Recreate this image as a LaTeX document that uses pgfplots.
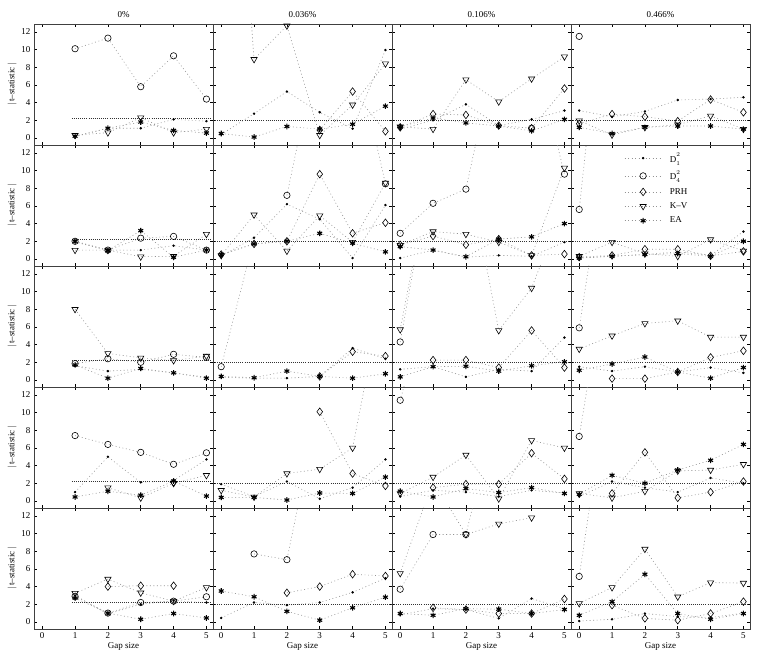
\documentclass[border=0pt]{standalone}
\usepackage{pgfplots}
\pgfplotsset{compat=1.18}
\usepgfplotslibrary{groupplots}
\usepackage{fontspec}
\setmainfont{Liberation Serif}
\newcommand{\Dsq}[1]{D$^{\raisebox{1.5pt}{$\scriptstyle 2$}}_{\raisebox{-1.5pt}{$\scriptstyle #1$}}$}
\pgfplotsset{
  ln/.style={gray!85, dash pattern=on 0.9pt off 2.6pt, line width=0.6pt},
  d1/.style={ln, mark=*, mark size=0.9pt, mark options={solid, black, fill=black}},
  d4/.style={ln, mark=o, mark size=3.2pt, mark options={solid, black, line width=0.6pt}},
  prh/.style={ln, mark=diamond, mark size=3.8pt, mark options={solid, black, fill=white, line width=0.6pt}},
  kv/.style={ln, mark=triangle, mark size=3.6pt, mark options={solid, black, fill=white, rotate=180, line width=0.6pt}},
  ea/.style={ln, mark=asterisk, mark size=2.8pt, mark options={solid, black, line width=1.1pt}},
  crit/.style={black!80, dash pattern=on 0.7pt off 1.4pt, line width=0.5pt, no marks},
}
\begin{document}
\begin{tikzpicture}
\begin{groupplot}[
  group style={group name=G, group size=4 by 5, horizontal sep=0pt, vertical sep=0pt,
    x descriptions at=edge bottom, y descriptions at=edge left},
  width=179pt, height=121pt, scale only axis,
  xmin=-0.25, xmax=5.2, ymin=-0.8, ymax=12.9,
  xtick={0,1,2,3,4,5}, ytick={0,2,4,6,8,10,12},
  /pgf/number format/assume math mode=true,
  tick label style={font=\small},
  label style={font=\small},
  title style={font=\small, yshift=-3pt},
  axis line style={black!75, line width=0.9pt},
  major tick length=3pt,
  tick style={black, line width=0.5pt},
  ylabel={$|$\,t--statistic\,$|$},
  xlabel={Gap size},
  ylabel style={yshift=-2pt},
  xlabel style={yshift=3pt},
]
% ---------------- Row 1 ----------------
\nextgroupplot[title={0\%}]
\addplot[d1] coordinates {(1,0.15)(2,1.1)(3,1.1)(4,2.1)(5,1.9)};
\addplot[d4] coordinates {(1,10.1)(2,11.3)(3,5.8)(4,9.3)(5,4.4)};
\addplot[kv] coordinates {(1,0.3)(2,0.6)(3,2.3)(4,0.6)(5,1.0)};
\addplot[ea] coordinates {(1,0.2)(2,1.1)(3,1.8)(4,0.85)(5,0.55)};
\addplot[crit] coordinates {(0.9,2.25)(5.15,2.25)};
\nextgroupplot[title={0.036\%}]
\addplot[d1] coordinates {(0,0.4)(1,2.75)(2,5.25)(3,2.9)(4,1.05)(5,9.95)};
\addplot[prh] coordinates {(3,0.9)(4,5.25)(5,0.75)};
\addplot[kv] coordinates {(0,60)(1,8.9)(2,12.7)(3,0.3)(4,3.75)(5,8.4)};
\addplot[ea] coordinates {(0,0.5)(1,0.1)(2,1.3)(3,1.0)(4,1.55)(5,3.6)};
\addplot[crit] coordinates {(-0.25,2.05)(5.2,2.05)};
\nextgroupplot[title={0.106\%}]
\addplot[d1] coordinates {(0,1.0)(1,2.0)(2,3.8)(3,1.4)(4,2.1)(5,3.1)};
\addplot[d4] coordinates {(4,1.1)};
\addplot[prh] coordinates {(0,1.2)(1,2.7)(2,2.6)(3,1.4)(4,1.1)(5,5.6)};
\addplot[kv] coordinates {(0,1.26)(1,1.0)(2,6.6)(3,4.1)(4,6.7)(5,9.2)};
\addplot[ea] coordinates {(0,1.26)(1,2.25)(2,1.7)(3,1.35)(4,0.8)(5,2.1)};
\addplot[crit] coordinates {(-0.25,2.05)(5.2,2.05)};
\nextgroupplot[title={0.466\%}]
\addplot[d1] coordinates {(0,3.1)(1,2.4)(2,3.0)(3,4.3)(4,4.4)(5,4.6)};
\addplot[d4] coordinates {(0,11.5)};
\addplot[prh] coordinates {(0,1.6)(1,2.7)(2,2.4)(3,1.9)(4,4.35)(5,2.9)};
\addplot[kv] coordinates {(0,1.95)(1,0.35)(2,1.2)(3,1.5)(4,2.5)(5,1.0)};
\addplot[ea] coordinates {(0,1.2)(1,0.5)(2,1.2)(3,1.35)(4,1.35)(5,1.0)};
\addplot[crit] coordinates {(-0.25,2.05)(5.2,2.05)};
% ---------------- Row 2 ----------------
\nextgroupplot
\addplot[d1] coordinates {(1,1.9)(2,1.0)(3,1.0)(4,1.5)(5,1.0)};
\addplot[d4] coordinates {(1,2.0)(2,1.0)(3,2.35)(4,2.55)(5,1.0)};
\addplot[kv] coordinates {(1,1.0)(2,1.0)(3,0.25)(4,0.3)(5,2.8)};
\addplot[ea] coordinates {(1,2.0)(2,0.95)(3,3.2)(4,0.2)(5,1.0)};
\addplot[crit] coordinates {(0.9,2.25)(5.15,2.25)};
\nextgroupplot
\addplot[d1] coordinates {(0,0.3)(1,2.4)(2,6.2)(3,4.5)(4,0.1)(5,6.1)};
\addplot[d4] coordinates {(2,7.2)(3,25)(4,25)(5,8.5)};
\addplot[prh] coordinates {(0,0.5)(1,1.7)(2,2.0)(3,9.6)(4,2.9)(5,4.1)};
\addplot[kv] coordinates {(0,0.4)(1,5.0)(2,0.9)(3,4.9)(4,1.9)(5,8.6)};
\addplot[ea] coordinates {(0,0.5)(1,1.7)(2,2.0)(3,2.9)(4,1.8)(5,0.8)};
\addplot[crit] coordinates {(-0.25,2.05)(5.2,2.05)};
\nextgroupplot
\addplot[d1] coordinates {(0,0.1)(1,1.0)(2,0.2)(3,0.4)(4,0.3)(5,1.9)};
\addplot[d4] coordinates {(0,2.9)(1,6.3)(2,7.9)(3,25)(4,25)(5,9.6)};
\addplot[prh] coordinates {(0,1.6)(1,2.6)(2,1.6)(3,2.25)(4,0.4)(5,0.55)};
\addplot[kv] coordinates {(0,1.55)(1,3.1)(2,2.8)(3,1.9)(4,0.4)(5,10.3)};
\addplot[ea] coordinates {(0,1.4)(1,1.0)(2,0.25)(3,2.25)(4,2.5)(5,4.0)};
\addplot[crit] coordinates {(-0.25,2.05)(5.2,2.05)};
\nextgroupplot[legend style={at={(0.28,0.97)}, anchor=north west, draw=none, fill=none,
    font=\small, row sep=3pt, cells={anchor=west},
    /tikz/every odd column/.append style={column sep=6pt},
    legend image code/.code={\draw[mark repeat=2,mark phase=2,#1] plot coordinates {(0cm,0cm) (0.65cm,0cm) (1.3cm,0cm)};}}]
\addplot[d1] coordinates {(0,0.1)(1,0.3)(2,0.5)(3,0.8)(4,0.4)(5,3.1)};
\addplot[d4] coordinates {(0,5.6)(1,40)};
\addplot[prh] coordinates {(0,0.2)(1,0.4)(2,1.1)(3,1.1)(4,0.35)(5,0.85)};
\addplot[kv] coordinates {(0,0.3)(1,1.9)(2,0.6)(3,0.3)(4,2.2)(5,0.9)};
\addplot[ea] coordinates {(0,0.1)(1,0.3)(2,0.5)(3,0.6)(4,0.3)(5,2.0)};
\addplot[crit] coordinates {(-0.25,2.05)(5.2,2.05)};
\legend{\Dsq{1}, \Dsq{4}, PRH, K--V, EA}
% ---------------- Row 3 ----------------
\nextgroupplot
\addplot[d1] coordinates {(1,1.6)(2,1.0)(3,1.2)(4,0.8)(5,0.3)};
\addplot[d4] coordinates {(1,1.85)(2,2.4)(3,2.0)(4,2.9)(5,2.55)};
\addplot[kv] coordinates {(1,8.0)(2,3.0)(3,2.5)(4,2.2)(5,2.7)};
\addplot[ea] coordinates {(1,1.7)(2,0.2)(3,1.3)(4,0.8)(5,0.2)};
\addplot[crit] coordinates {(0.9,2.25)(5.15,2.25)};
\nextgroupplot
\addplot[d1] coordinates {(0,0.3)(1,0.2)(2,0.2)(3,0.4)(4,3.6)(5,2.4)};
\addplot[d4] coordinates {(0,1.5)(1,16)};
\addplot[prh] coordinates {(3,0.4)(4,3.2)(5,2.7)};
\addplot[ea] coordinates {(0,0.4)(1,0.25)(2,1.0)(3,0.4)(4,0.2)(5,0.7)};
\addplot[crit] coordinates {(-0.25,2.05)(5.2,2.05)};
\nextgroupplot
\addplot[d1] coordinates {(0,1.2)(1,1.5)(2,0.35)(3,1.2)(4,1.0)(5,4.8)};
\addplot[d4] coordinates {(0,4.3)(1,25)};
\addplot[prh] coordinates {(1,2.25)(2,2.25)(3,1.4)(4,5.6)(5,1.4)};
\addplot[kv] coordinates {(0,5.7)(1,25)(2,25)(3,5.6)(4,10.4)(5,20)};
\addplot[ea] coordinates {(0,0.35)(1,1.5)(2,1.55)(3,1.0)(4,1.6)(5,2.05)};
\addplot[crit] coordinates {(-0.25,2.05)(5.2,2.05)};
\nextgroupplot
\addplot[d1] coordinates {(0,1.5)(1,1.0)(2,1.5)(3,0.9)(4,1.4)(5,0.8)};
\addplot[d4] coordinates {(0,5.9)(1,30)};
\addplot[prh] coordinates {(1,0.15)(2,0.15)(3,0.9)(4,2.55)(5,3.3)};
\addplot[kv] coordinates {(0,3.5)(1,5.0)(2,6.4)(3,6.7)(4,4.85)(5,4.85)};
\addplot[ea] coordinates {(0,1.1)(1,1.8)(2,2.6)(3,0.9)(4,0.2)(5,1.4)};
\addplot[crit] coordinates {(-0.25,2.05)(5.2,2.05)};
% ---------------- Row 4 ----------------
\nextgroupplot
\addplot[d1] coordinates {(1,1.0)(2,5.0)(3,2.1)(4,2.3)(5,4.7)};
\addplot[d4] coordinates {(1,7.4)(2,6.4)(3,5.5)(4,4.15)(5,5.45)};
\addplot[prh] coordinates {(4,2.1)};
\addplot[kv] coordinates {(2,1.5)(3,0.35)(4,2.0)(5,2.9)};
\addplot[ea] coordinates {(1,0.45)(2,1.1)(3,0.65)(4,2.25)(5,0.55)};
\addplot[crit] coordinates {(0.9,2.25)(5.15,2.25)};
\nextgroupplot
\addplot[d1] coordinates {(0,1.9)(1,0.5)(2,2.2)(3,0.25)(4,1.5)(5,4.7)};
\addplot[prh] coordinates {(3,10.1)(4,3.1)(5,1.7)};
\addplot[kv] coordinates {(0,1.2)(1,0.45)(2,3.1)(3,3.6)(4,6.0)(5,25)};
\addplot[ea] coordinates {(0,0.4)(1,0.4)(2,0.1)(3,0.9)(4,0.85)(5,2.7)};
\addplot[crit] coordinates {(-0.25,2.05)(5.2,2.05)};
\nextgroupplot
\addplot[d1] coordinates {(0,0.5)(1,1.2)(2,1.0)(3,0.5)(4,1.2)(5,0.9)};
\addplot[d4] coordinates {(0,11.4)(1,25)};
\addplot[prh] coordinates {(1,1.5)(2,1.9)(3,1.9)(4,5.4)(5,2.5)};
\addplot[kv] coordinates {(0,0.85)(1,2.7)(2,5.2)(3,0.25)(4,6.85)(5,6.0)};
\addplot[ea] coordinates {(0,1.1)(1,0.45)(2,1.4)(3,0.95)(4,1.5)(5,0.85)};
\addplot[crit] coordinates {(-0.25,2.05)(5.2,2.05)};
\nextgroupplot
\addplot[d1] coordinates {(0,0.5)(1,2.2)(2,1.5)(3,1.0)(4,2.6)(5,2.0)};
\addplot[d4] coordinates {(0,7.3)(1,30)};
\addplot[prh] coordinates {(1,0.85)(2,5.5)(3,0.35)(4,1.0)(5,2.2)};
\addplot[kv] coordinates {(0,0.85)(1,0.35)(2,1.1)(3,3.4)(4,3.5)(5,4.15)};
\addplot[ea] coordinates {(0,0.75)(1,2.9)(2,2.0)(3,3.5)(4,4.6)(5,6.4)};
\addplot[crit] coordinates {(-0.25,2.05)(5.2,2.05)};
% ---------------- Row 5 ----------------
\nextgroupplot
\addplot[d1] coordinates {(1,3.0)(2,0.9)(3,2.0)(4,2.4)(5,2.2)};
\addplot[d4] coordinates {(1,2.9)(2,1.0)(3,2.2)(4,2.35)(5,2.85)};
\addplot[prh] coordinates {(2,4.0)(3,4.1)(4,4.1)};
\addplot[kv] coordinates {(1,3.25)(2,4.85)(3,3.3)(4,2.35)(5,3.9)};
\addplot[ea] coordinates {(1,2.7)(2,1.0)(3,0.3)(4,0.95)(5,0.45)};
\addplot[crit] coordinates {(0.9,2.25)(5.15,2.25)};
\nextgroupplot
\addplot[d1] coordinates {(0,0.45)(1,2.2)(2,1.9)(3,2.2)(4,3.35)(5,4.95)};
\addplot[d4] coordinates {(1,7.7)(2,7.05)(3,25)};
\addplot[prh] coordinates {(2,3.3)(3,4.0)(4,5.4)(5,5.2)};
\addplot[ea] coordinates {(0,3.5)(1,2.85)(2,1.2)(3,0.2)(4,1.6)(5,2.8)};
\addplot[crit] coordinates {(-0.25,2.05)(5.2,2.05)};
\nextgroupplot
\addplot[d1] coordinates {(0,0.8)(1,1.5)(2,1.4)(3,0.4)(4,2.65)(5,1.5)};
\addplot[d4] coordinates {(0,3.7)(1,9.9)(2,9.9)(3,25)};
\addplot[prh] coordinates {(1,1.6)(2,1.4)(3,0.95)(4,0.95)(5,2.6)};
\addplot[kv] coordinates {(0,5.5)(1,16)(2,9.9)(3,11.1)(4,11.8)};
\addplot[ea] coordinates {(0,0.95)(1,0.75)(2,1.5)(3,1.45)(4,0.95)(5,1.4)};
\addplot[crit] coordinates {(-0.25,2.05)(5.2,2.05)};
\nextgroupplot
\addplot[d1] coordinates {(0,0.1)(1,0.3)(2,0.95)(3,0.6)(4,0.5)(5,1.0)};
\addplot[d4] coordinates {(0,5.15)(1,30)};
\addplot[prh] coordinates {(1,1.9)(2,0.4)(3,0.2)(4,0.95)(5,2.3)};
\addplot[kv] coordinates {(0,2.1)(1,3.9)(2,8.25)(3,2.85)(4,4.45)(5,4.4)};
\addplot[ea] coordinates {(0,0.75)(1,2.3)(2,5.4)(3,0.95)(4,0.3)(5,0.95)};
\addplot[crit] coordinates {(-0.25,2.05)(5.2,2.05)};
\end{groupplot}
\path ([xshift=-34pt,yshift=24pt]G c1r1.north west) rectangle ([xshift=11pt,yshift=-32pt]G c4r5.south east);
\end{tikzpicture}
\end{document}
